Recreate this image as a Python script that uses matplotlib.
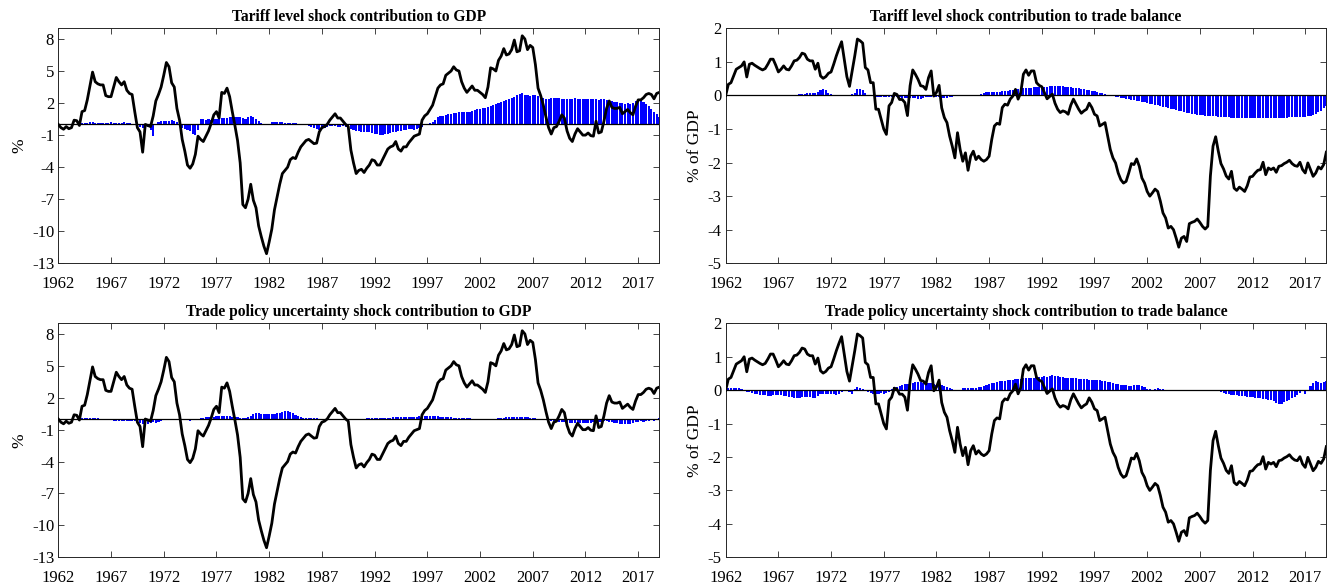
import numpy as np
import matplotlib
matplotlib.use('Agg')
import matplotlib.pyplot as plt

plt.rcParams['font.family'] = ['Liberation Serif', 'DejaVu Serif']

# Quarterly data, 1962Q1 .. 2019Q1
gdp = [
    0.0, -0.3, -0.45, -0.2,
    -0.4, -0.3, 0.4, 0.35,
    -0.1, 1.2, 1.3, 2.3,
    3.6, 4.9, 4.0, 3.8,
    3.7, 3.7, 2.7, 2.6,
    2.6, 3.5, 4.4, 4.0,
    3.7, 4.0, 3.2, 2.9,
    2.8, 1.2, -0.3, -0.7,
    -2.6, 0.0, -0.1, -0.2,
    0.8, 2.2, 2.8, 3.5,
    4.6, 5.8, 5.4, 3.9,
    3.5, 1.5, 0.4, -1.4,
    -2.5, -3.8, -4.1, -3.7,
    -2.8, -1.1, -1.4, -1.6,
    -1.1, -0.6, 0.1, 0.9,
    1.2, 0.6, 3.0, 2.9,
    3.4, 2.6, 1.2, -0.1,
    -1.5, -3.6, -7.5, -7.8,
    -7.0, -5.6, -7.1, -7.8,
    -9.5, -10.5, -11.4, -12.1,
    -11.0, -9.8, -8.0, -6.8,
    -5.6, -4.6, -4.3, -4.0,
    -3.3, -3.1, -3.2, -2.6,
    -2.1, -1.8, -1.5, -1.4,
    -1.6, -1.8, -1.75, -0.7,
    -0.3, -0.2, 0.0, 0.4,
    0.7, 1.0, 0.6, 0.6,
    0.3, 0.0, -0.2, -2.4,
    -3.6, -4.6, -4.3, -4.2,
    -4.5, -4.1, -3.8, -3.3,
    -3.4, -3.8, -3.8, -3.3,
    -2.8, -2.3, -2.1, -2.0,
    -1.6, -2.3, -2.5, -2.1,
    -2.1, -1.7, -1.4, -1.1,
    -1.0, -0.9, 0.4, 0.8,
    1.0, 1.4, 1.8, 2.6,
    3.4, 3.7, 3.8, 4.6,
    4.8, 5.0, 5.4, 5.1,
    5.0, 4.0, 3.4, 3.0,
    3.3, 3.6, 3.2, 3.2,
    3.0, 2.8, 2.5, 3.5,
    5.3, 5.2, 5.0, 6.0,
    6.4, 7.1, 6.5, 6.6,
    7.0, 7.9, 6.8, 6.9,
    8.3, 8.0, 7.0, 7.4,
    7.2, 5.6, 3.4, 2.7,
    1.8, 0.7, -0.3, -0.9,
    -0.3, -0.2, 0.3, 0.9,
    0.6, -0.6, -1.3, -1.6,
    -0.9, -0.4, -0.7, -1.0,
    -1.0, -0.8, -1.05, -1.1,
    0.3, -0.8, -0.7, 0.3,
    1.5, 2.2, 1.6, 1.5,
    1.5, 1.6, 1.0, 1.2,
    1.4, 1.1, 0.9, 1.7,
    2.3, 2.3, 2.5, 2.8,
    2.9, 2.8, 2.4, 2.9,
    3.0,
]

trade_balance = [
    0.0, 0.33, 0.38, 0.58,
    0.78, 0.83, 0.88, 1.0,
    0.55, 0.93, 0.96, 0.9,
    0.85, 0.8, 0.76, 0.8,
    0.93, 1.08, 1.08, 0.9,
    0.7, 0.78, 0.88, 0.78,
    0.76, 0.88, 1.03, 1.05,
    1.13, 1.26, 1.23, 1.08,
    1.03, 1.03, 0.78, 0.96,
    0.58, 0.51, 0.56, 0.66,
    0.7, 0.93, 1.18, 1.4,
    1.6, 1.08, 0.56, 0.27,
    0.73, 1.18, 1.68, 1.63,
    1.56, 0.83, 0.76, 0.38,
    0.38, -0.41, -0.41, -0.7,
    -1.0, -1.16, -0.31, -0.21,
    0.06, 0.03, -0.12, -0.12,
    -0.21, -0.6, 0.29, 0.76,
    0.63, 0.48, 0.29, 0.27,
    0.18, 0.53, 0.73, -0.02,
    0.09, 0.3, -0.37, -0.66,
    -0.81, -1.21, -1.51, -1.86,
    -1.11, -1.61, -1.96, -1.71,
    -2.23, -1.81, -1.66, -1.91,
    -1.81, -1.91, -1.96, -1.91,
    -1.81, -1.31, -0.91, -0.83,
    -0.86, -0.36, -0.26, -0.29,
    -0.11, -0.02, 0.18, -0.11,
    0.08, 0.63, 0.76, 0.6,
    0.73, 0.73, 0.38, 0.3,
    0.26, 0.08, -0.1, -0.03,
    0.04, -0.23, -0.41, -0.51,
    -0.46, -0.49, -0.56, -0.29,
    -0.11, -0.26, -0.41, -0.53,
    -0.46, -0.41, -0.23, -0.36,
    -0.56, -0.61, -0.91, -0.86,
    -0.81, -1.21, -1.61, -1.86,
    -2.01, -2.31, -2.51, -2.61,
    -2.56, -2.31, -2.03, -2.06,
    -1.89, -2.11, -2.46, -2.61,
    -2.86, -3.0, -2.9, -2.79,
    -2.86, -3.15, -3.5, -3.65,
    -3.95, -3.9, -4.0, -4.25,
    -4.52, -4.25, -4.2, -4.35,
    -3.82, -3.78, -3.75, -3.68,
    -3.78, -3.9, -3.98, -3.9,
    -2.4, -1.51, -1.23, -1.66,
    -2.03, -2.19, -2.4, -2.49,
    -2.26, -2.76, -2.83, -2.73,
    -2.79, -2.86, -2.69, -2.43,
    -2.41, -2.31, -2.23, -2.21,
    -1.99, -2.36, -2.16, -2.21,
    -2.16, -2.29, -2.11, -2.09,
    -2.03, -1.99, -1.93, -2.03,
    -2.09, -2.11, -1.99, -2.21,
    -2.31, -2.01, -2.21, -2.41,
    -2.31, -2.13, -2.19, -2.06,
    -1.69,
]

tariff_to_gdp = [
    0.05, 0.05, 0.05, 0.05,
    0.05, 0.05, 0.08, 0.08,
    0.08, 0.1, 0.1, 0.15,
    0.2, 0.2, 0.15, 0.15,
    0.15, 0.12, 0.12, 0.15,
    0.2, 0.15, 0.12, 0.12,
    0.15, 0.2, 0.12, 0.1,
    0.05, 0.0, -0.1, -0.25,
    -0.35, -0.25, -0.2, -0.5,
    -1.1, 0.0, 0.25, 0.3,
    0.3, 0.3, 0.35, 0.4,
    0.35, 0.25, -0.1, -0.3,
    -0.4, -0.5, -0.6, -0.9,
    -0.95, -0.5, 0.5, 0.55,
    0.45, 0.5, 0.4, 0.5,
    0.55, 0.5, 0.6, 0.6,
    0.6, 0.65, 0.65, 0.7,
    0.7, 0.7, 0.6, 0.5,
    0.65, 0.75, 0.7, 0.5,
    0.3, 0.1, 0.05, 0.05,
    0.05, 0.25, 0.2, 0.2,
    0.25, 0.2, 0.15, 0.1,
    0.1, 0.12, 0.1, 0.08,
    0.08, 0.05, 0.0, -0.1,
    -0.2, -0.3, -0.4, -0.5,
    -0.45, -0.3, -0.25, -0.15,
    -0.1, -0.15, -0.2, -0.2,
    -0.15, -0.2, -0.3, -0.45,
    -0.55, -0.6, -0.65, -0.7,
    -0.7, -0.75, -0.75, -0.8,
    -0.85, -0.9, -0.95, -0.95,
    -0.9, -0.85, -0.8, -0.75,
    -0.7, -0.65, -0.6, -0.55,
    -0.5, -0.45, -0.45, -0.55,
    -0.4, -0.3, -0.2, -0.05,
    0.05, 0.15, 0.25, 0.45,
    0.7, 0.75, 0.8, 0.9,
    0.95, 1.0, 1.05, 1.1,
    1.15, 1.2, 1.2, 1.15,
    1.2, 1.3, 1.35, 1.4,
    1.45, 1.5, 1.55, 1.6,
    1.7, 1.8, 1.9, 2.0,
    2.1, 2.2, 2.3, 2.4,
    2.5, 2.6, 2.75, 2.85,
    2.9, 2.8, 2.75, 2.7,
    2.8, 2.75, 2.65, 2.55,
    2.5, 2.4, 2.35, 2.45,
    2.5, 2.45, 2.45, 2.4,
    2.4, 2.4, 2.35, 2.4,
    2.45, 2.4, 2.35, 2.4,
    2.35, 2.35, 2.4, 2.35,
    2.35, 2.3, 2.35, 2.35,
    2.3, 2.2, 2.15, 2.1,
    2.1, 2.0, 2.05, 1.95,
    2.0, 1.95, 2.05, 2.15,
    2.2, 2.25, 2.1, 1.9,
    1.7, 1.4, 1.2, 0.95,
    0.7,
]

tariff_to_tb = [
    0.0, -0.02, -0.02, -0.02,
    -0.03, -0.03, -0.02, -0.02,
    -0.02, -0.02, -0.02, -0.02,
    -0.02, -0.02, -0.02, -0.02,
    -0.02, -0.02, -0.02, -0.02,
    -0.02, -0.02, -0.02, -0.01,
    -0.01, 0.0, 0.01, 0.02,
    0.03, 0.04, 0.05, 0.06,
    0.06, 0.07, 0.08, 0.1,
    0.15, 0.19, 0.15, 0.08,
    0.03, 0.02, 0.02, 0.02,
    0.01, 0.01, 0.0, 0.01,
    0.03, 0.08, 0.18, 0.2,
    0.17, 0.08, -0.02, -0.03,
    -0.03, -0.05, -0.05, -0.04,
    -0.05, -0.06, -0.05, -0.04,
    -0.04, -0.05, -0.06, -0.08,
    -0.09, -0.08, -0.07, -0.08,
    -0.09, -0.1, -0.1, -0.08,
    -0.06, -0.05, -0.05, -0.04,
    -0.04, -0.06, -0.08, -0.09,
    -0.08, -0.06, -0.05, -0.03,
    -0.02, -0.02, -0.02, -0.02,
    -0.02, -0.01, -0.01, -0.01,
    0.02, 0.05, 0.08, 0.09,
    0.1, 0.1, 0.1, 0.11,
    0.11, 0.12, 0.13, 0.14,
    0.15, 0.16, 0.18, 0.19,
    0.2, 0.21, 0.22, 0.22,
    0.23, 0.24, 0.24, 0.25,
    0.25, 0.26, 0.26, 0.27,
    0.27, 0.28, 0.28, 0.27,
    0.27, 0.26, 0.25, 0.24,
    0.23, 0.22, 0.21, 0.2,
    0.18, 0.17, 0.15, 0.13,
    0.12, 0.1, 0.08, 0.06,
    0.04, 0.02, 0.0, -0.02,
    -0.04, -0.06, -0.08, -0.09,
    -0.11, -0.12, -0.13, -0.15,
    -0.16, -0.18, -0.19, -0.21,
    -0.22, -0.24, -0.25, -0.27,
    -0.29, -0.31, -0.33, -0.35,
    -0.37, -0.39, -0.41, -0.43,
    -0.45, -0.47, -0.49, -0.51,
    -0.53, -0.54, -0.55, -0.57,
    -0.58, -0.59, -0.6, -0.61,
    -0.62, -0.6, -0.61, -0.63,
    -0.64, -0.64, -0.65, -0.65,
    -0.66, -0.66, -0.67, -0.67,
    -0.67, -0.67, -0.68, -0.68,
    -0.67, -0.67, -0.67, -0.67,
    -0.67, -0.67, -0.67, -0.67,
    -0.67, -0.67, -0.66, -0.66,
    -0.66, -0.66, -0.65, -0.65,
    -0.65, -0.65, -0.65, -0.64,
    -0.63, -0.62, -0.6, -0.58,
    -0.55, -0.5, -0.45, -0.38,
    -0.3,
]

tpu_to_gdp = [
    0.0, 0.02, 0.02, 0.02,
    0.02, 0.02, 0.02, 0.03,
    0.04, 0.05, 0.06, 0.08,
    0.1, 0.1, 0.08, 0.05,
    0.0, -0.05, -0.1, -0.12,
    -0.13, -0.14, -0.15, -0.15,
    -0.15, -0.15, -0.15, -0.16,
    -0.18, -0.2, -0.25, -0.35,
    -0.45, -0.55, -0.5, -0.35,
    -0.3, -0.4, -0.25, -0.15,
    -0.1, -0.05, -0.05, -0.08,
    -0.1, -0.12, -0.1, -0.08,
    -0.08, -0.12, -0.15, -0.1,
    -0.05, 0.02, 0.08, 0.12,
    0.15, 0.18, 0.2, 0.22,
    0.25, 0.3, 0.32, 0.3,
    0.28, 0.25, 0.22, 0.18,
    0.15, 0.12, 0.1, 0.1,
    0.15, 0.3, 0.45, 0.55,
    0.55, 0.5, 0.5, 0.45,
    0.45, 0.45, 0.5, 0.55,
    0.6, 0.7, 0.75, 0.72,
    0.65, 0.55, 0.4, 0.3,
    0.2, 0.12, 0.08, 0.05,
    0.05, 0.05, 0.05, 0.03,
    0.02, 0.0, -0.02, -0.05,
    -0.05, -0.03, 0.0, 0.02,
    0.02, 0.0, -0.02, -0.02,
    0.0, 0.02, 0.03, 0.03,
    0.04, 0.05, 0.05, 0.05,
    0.05, 0.06, 0.08, 0.1,
    0.12, 0.13, 0.14, 0.15,
    0.15, 0.16, 0.17, 0.18,
    0.18, 0.2, 0.22, 0.22,
    0.23, 0.25, 0.26, 0.25,
    0.24, 0.25, 0.26, 0.26,
    0.25, 0.22, 0.2, 0.18,
    0.16, 0.15, 0.13, 0.12,
    0.12, 0.11, 0.1, 0.1,
    0.05, 0.0, -0.05, -0.1,
    -0.12, -0.1, -0.05, 0.0,
    -0.05, -0.08, 0.02, 0.08,
    0.1, 0.12, 0.15, 0.17,
    0.18, 0.2, 0.2, 0.19,
    0.18, 0.17, 0.15, 0.12,
    0.1, 0.05, 0.0, -0.05,
    -0.1, -0.12, -0.1, -0.15,
    -0.2, -0.22, -0.25, -0.3,
    -0.32, -0.35, -0.37, -0.38,
    -0.38, -0.37, -0.37, -0.36,
    -0.35, -0.35, -0.34, -0.32,
    -0.3, -0.28, -0.25, -0.2,
    -0.18, -0.25, -0.3, -0.35,
    -0.4, -0.45, -0.48, -0.5,
    -0.5, -0.45, -0.4, -0.3,
    -0.25, -0.2, -0.3, -0.22,
    -0.15, -0.1, -0.2, 0.02,
    0.1,
]

tpu_to_tb = [
    0.03, 0.05, 0.05, 0.05,
    0.06, 0.07, 0.02, -0.03,
    -0.05, -0.07, -0.08, -0.1,
    -0.12, -0.13, -0.14, -0.15,
    -0.16, -0.16, -0.15, -0.14,
    -0.13, -0.14, -0.16, -0.18,
    -0.2, -0.21, -0.22, -0.22,
    -0.22, -0.21, -0.2, -0.19,
    -0.2, -0.22, -0.23, -0.18,
    -0.12, -0.1, -0.1, -0.11,
    -0.12, -0.12, -0.13, -0.1,
    -0.06, -0.03, -0.02, -0.05,
    -0.12, 0.02, 0.08, 0.07,
    0.02, -0.02, -0.05, -0.08,
    -0.1, -0.12, -0.1, -0.08,
    -0.1, -0.08, -0.05, 0.03,
    0.08, 0.1, 0.12, 0.15,
    0.17, 0.18, 0.2, 0.22,
    0.23, 0.24, 0.23, 0.22,
    0.2, 0.22, 0.2, 0.18,
    0.16, 0.15, 0.14, 0.12,
    0.1, 0.05, 0.02, 0.0,
    0.0, 0.01, 0.05, 0.07,
    0.06, 0.05, 0.06, 0.07,
    0.08, 0.1, 0.12, 0.14,
    0.17, 0.2, 0.22, 0.24,
    0.26, 0.27, 0.28, 0.29,
    0.3, 0.31, 0.32, 0.33,
    0.34, 0.35, 0.35, 0.36,
    0.37, 0.37, 0.38, 0.39,
    0.4, 0.41, 0.4, 0.42,
    0.44, 0.42, 0.41, 0.4,
    0.38, 0.37, 0.36, 0.35,
    0.35, 0.35, 0.34, 0.33,
    0.32, 0.32, 0.31, 0.3,
    0.3, 0.3, 0.29, 0.28,
    0.27, 0.25, 0.23, 0.21,
    0.19, 0.17, 0.15, 0.14,
    0.14, 0.13, 0.12, 0.15,
    0.16, 0.15, 0.13, 0.08,
    0.03, 0.02, 0.01, 0.02,
    0.05, 0.04, 0.02, 0.01,
    0.0, -0.01, -0.02, -0.03,
    -0.03, -0.04, -0.04, -0.03,
    -0.03, -0.03, -0.02, -0.02,
    -0.03, -0.04, -0.03, -0.02,
    -0.02, 0.0, -0.01, -0.04,
    -0.07, -0.09, -0.1, -0.12,
    -0.13, -0.14, -0.15, -0.16,
    -0.17, -0.18, -0.19, -0.2,
    -0.21, -0.22, -0.23, -0.24,
    -0.25, -0.26, -0.28, -0.3,
    -0.33, -0.38, -0.42, -0.4,
    -0.36, -0.32, -0.28, -0.24,
    -0.2, -0.15, -0.08, -0.02,
    -0.1, 0.0, 0.12, 0.2,
    0.26, 0.24, 0.2, 0.25,
    0.28,
]

titles = [
    "Tariff level shock contribution to GDP",
    "Tariff level shock contribution to trade balance",
    "Trade policy uncertainty shock contribution to GDP",
    "Trade policy uncertainty shock contribution to trade balance",
]
year_ticks = list(range(1962, 2018, 5))
gdp_ticks = [-13, -10, -7, -4, -1, 2, 5, 8]
tb_ticks = [-5, -4, -3, -2, -1, 0, 1, 2]

W, H = 1332, 584
fig = plt.figure(figsize=(W / 100, H / 100), dpi=100)

def rect(x0, x1, y0, y1):
    return [x0 / W, 1 - y1 / H, (x1 - x0) / W, (y1 - y0) / H]

spine_col = '#262626'

def panel(r, bars, line, title, ylabel, ylim, yticks):
    ax = fig.add_axes(r)
    xb = 1962 + 0.25 * np.arange(len(bars))
    ax.bar(xb, bars, width=0.2, color='#0000ff', edgecolor='none', zorder=2)
    ax.axhline(0, color='black', lw=0.9, zorder=3)
    xl = 1962 + 0.25 * np.arange(len(line))
    ax.plot(xl, line, color='black', lw=2.0, zorder=4, solid_joinstyle='round')
    ax.set_xlim(1962, 2019)
    ax.set_ylim(*ylim)
    ax.set_xticks(year_ticks)
    ax.set_xticklabels([str(y) for y in year_ticks])
    ax.set_yticks(yticks)
    ax.set_yticklabels([str(v) for v in yticks])
    ax.tick_params(direction='in', top=True, right=True, length=4, width=0.6,
                   color=spine_col, labelsize=12, labelcolor='black')
    ax.tick_params(axis='x', pad=9)
    ax.tick_params(axis='y', pad=3)
    for s in ax.spines.values():
        s.set_color(spine_col)
        s.set_linewidth(0.7)
    ax.set_title(title, fontsize=11.2, fontweight='bold', pad=5)
    ax.set_ylabel(ylabel, fontsize=12.5, labelpad=3)
    return ax

panel(rect(58.3, 659.3, 28.3, 263.3), tariff_to_gdp, gdp, titles[0], '%', (-13, 9), gdp_ticks)
panel(rect(725.7, 1326.3, 28.3, 263.3), tariff_to_tb, trade_balance, titles[1], '% of GDP', (-5, 2), tb_ticks)
panel(rect(58.3, 659.3, 323.3, 557.3), tpu_to_gdp, gdp, titles[2], '%', (-13, 9), gdp_ticks)
panel(rect(725.7, 1326.3, 323.3, 557.3), tpu_to_tb, trade_balance, titles[3], '% of GDP', (-5, 2), tb_ticks)

fig.savefig('out.png', dpi=100)
